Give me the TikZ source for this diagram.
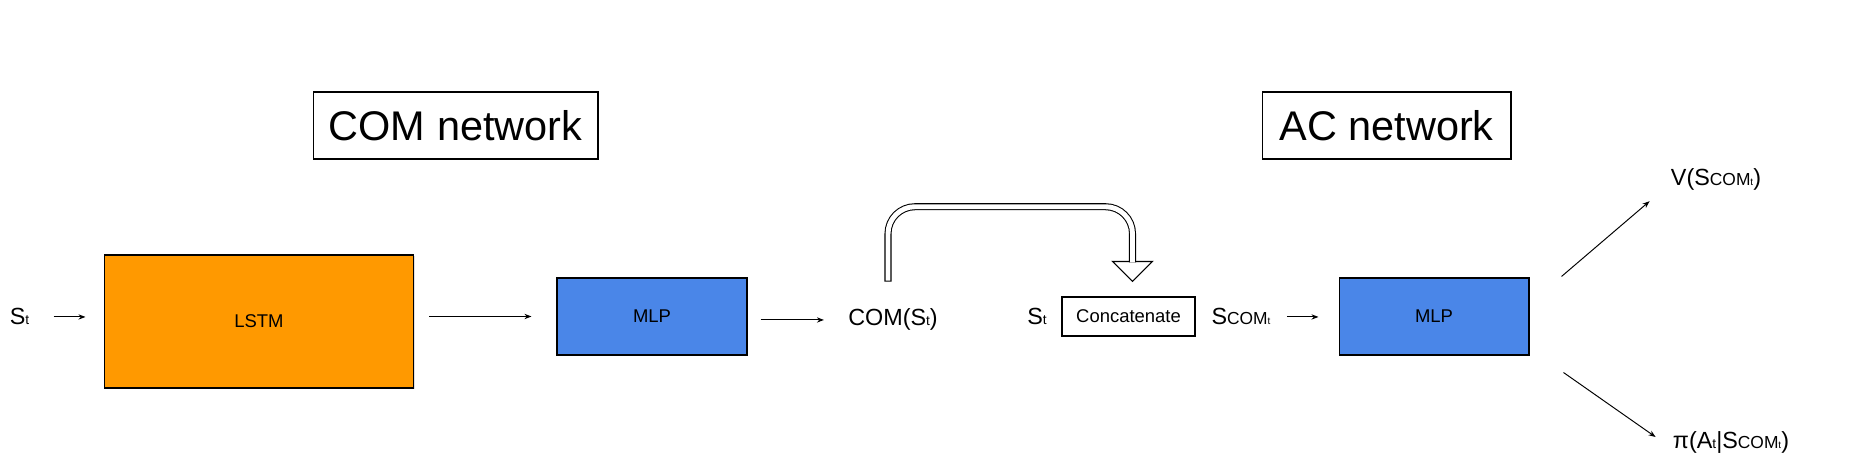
\documentclass[tikz,border=0pt]{standalone}
\usepackage{fontspec}
\setmainfont{Liberation Sans}
\usetikzlibrary{arrows.meta,calc,shadows}

\definecolor{lstmorange}{RGB}{255,153,0}
\definecolor{mlpblue}{RGB}{74,134,232}

\newcommand{\titlefont}{\fontsize{23.6}{28}\selectfont}
\newcommand{\lblfont}{\fontsize{13.3}{16}\selectfont}
\newcommand{\boxfont}{\fontsize{10.5}{12}\selectfont}
\newcommand{\comfont}{\fontsize{9.9}{11}\selectfont}
\newcommand{\subt}{{\fontsize{7.8}{8}\selectfont t}}
\newcommand{\tinyt}{{\fontsize{5.7}{6}\selectfont t}}
\newcommand{\scom}{S{\comfont COM\tinyt}}

\tikzset{
  netbox/.style={draw, line width=0.6pt, inner sep=0pt, font=\boxfont,
    drop shadow={shadow xshift=0.5pt, shadow yshift=-0.8pt, opacity=0.25}},
  titlebox/.style={draw, line width=0.6pt, fill=white, inner sep=0pt, font=\titlefont,
    minimum height=1.34cm,
    drop shadow={shadow xshift=0.5pt, shadow yshift=-0.8pt, opacity=0.25}},
  lbl/.style={inner sep=0pt, font=\lblfont, anchor=base},
  flow/.style={->, line width=0.55pt},
}

\begin{document}
\begin{tikzpicture}[x=0.02cm, y=-0.02cm, >={Stealth[length=4pt,width=3pt]}]
  \fill[white] (0,0) rectangle (1854,476);

  % titles
  \node[titlebox, minimum width=5.7cm] (comnet) at (455.5,125.5) {COM network};
  \node[titlebox, minimum width=4.98cm] (acnet) at (1386.5,125.5) {AC network};

  % COM network
  \node[lbl] (st) at (19.5,325) {S\subt};
  \node[netbox, fill=lstmorange, minimum width=6.2cm, minimum height=2.66cm] (lstm) at (259,321.5) {LSTM};
  \node[netbox, fill=mlpblue, minimum width=3.8cm, minimum height=1.54cm] (mlpa) at (652,316.5) {MLP};
  \node[lbl] (com) at (893,326) {COM(S\subt)};

  % AC network
  \node[lbl] (stb) at (1037,325) {S\subt};
  \node[netbox, fill=white, minimum width=2.66cm, minimum height=0.78cm] (concat) at (1128.5,316.5) {Concatenate};
  \node[lbl] (scom) at (1241,325) {\scom};
  \node[netbox, fill=mlpblue, minimum width=3.8cm, minimum height=1.54cm] (mlpb) at (1434,316.5) {MLP};
  \node[lbl] (value) at (1716,186) {V(\scom)};
  \node[lbl] (policy) at (1731,448) {π(A\subt|\scom)};

  \draw[flow, shorten <=0.48cm, shorten >=0.36cm] (st.east) -- (st.east -| lstm.west);
  \draw[flow, shorten <=0.3cm, shorten >=0.5cm] (lstm.east |- mlpa.west) -- (mlpa.west);
  \draw[flow, shorten <=0.26cm, shorten >=0.48cm] (mlpa.east |- com.west) -- (com.west);
  \draw[flow, shorten <=0.32cm, shorten >=0.4cm] (scom.east) -- (scom.east -| mlpb.west);
  \draw[flow] ($(mlpb.north east)+(32,-1)$) -- ($(value.south west)+(-21,10)$);
  \draw[flow] ($(mlpb.south east)+(34,17)$) -- ($(policy.west)+(-17,-5)$);

  % hollow bent arrow
  \coordinate (loopa) at ($(com.north)+(-5,-27)$);
  \coordinate (loopb) at ($(concat.north)+(4,-35)$);
  \filldraw[fill=white, line width=0.6pt, line join=miter] ($(loopb)+(-20,0)$) -- ($(loopb)+(20,0)$) -- ($(loopb)+(0,20)$) -- cycle;
  \draw[line width=4pt, rounded corners=0.54cm] (loopa) -- ++(0,-75) -| ($(loopb)+(0,1)$);
  \draw[white, line width=2.8pt, rounded corners=0.54cm, shorten <=0.6pt] (loopa) -- ++(0,-75) -| ($(loopb)+(0,1)$);
\end{tikzpicture}
\end{document}
